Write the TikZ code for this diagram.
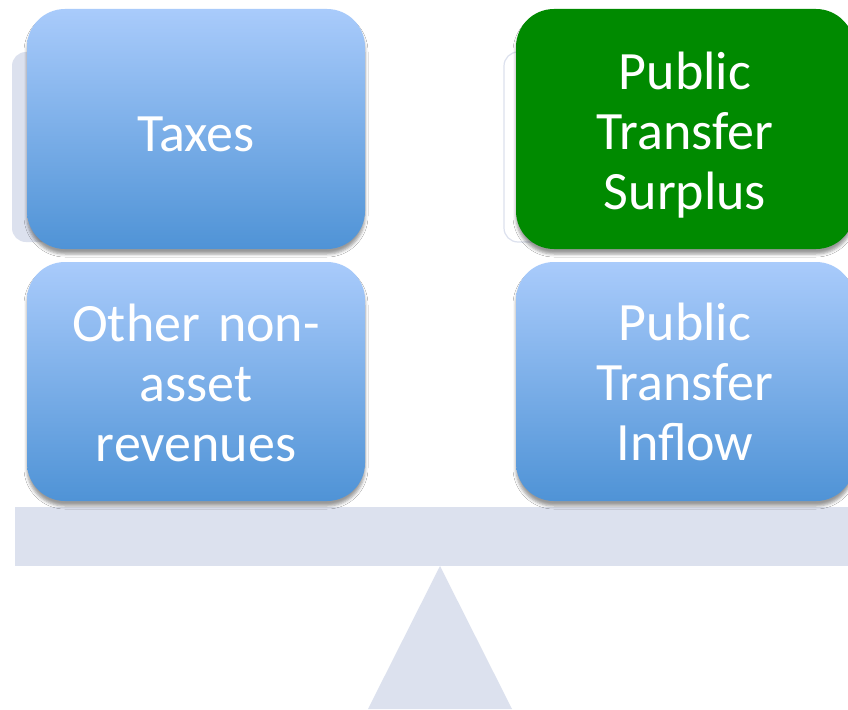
\documentclass[tikz,border=0pt]{standalone}
\usepackage{fontspec}
\setmainfont{Carlito}
\usetikzlibrary{shadows.blur}
\definecolor{topblue}{HTML}{A9CBFB}
\definecolor{botblue}{HTML}{4F93D6}
\definecolor{surplusgreen}{HTML}{008A00}
\definecolor{scalegray}{HTML}{DCE1EE}
\tikzset{
  panel/.style={rectangle, rounded corners=38pt, minimum width=338pt, minimum height=240pt,
    blur shadow={shadow xshift=0pt, shadow yshift=-5pt, shadow blur radius=3pt, shadow opacity=40}},
  bluepanel/.style={panel, top color=topblue, bottom color=botblue},
  greenpanel/.style={panel, fill=surplusgreen},
  paneltext/.style={text width=320pt, align=center, text=white, font=\fontsize{54}{60}\selectfont},
  backcard/.style={rounded corners=14pt},
}
\begin{document}
\begin{tikzpicture}[x=1pt,y=-1pt]
\useasboundingbox (0,0) rectangle (848,709);
\fill[white] (0,0) rectangle (848,709);
% back cards
\fill[scalegray, backcard] (12,52) rectangle (200,242);
\draw[scalegray, fill=white, line width=1.2pt, backcard] (504,52) rectangle (690,242);
% beam and fulcrum
\fill[scalegray] (15,507) rectangle (860,566);
\coordinate (apex) at (440,566);
\coordinate (bl) at (368,709);
\coordinate (br) at (512,709);
\fill[scalegray] (apex) -- (br) -- (bl) -- cycle;
% panels
\node[bluepanel] (taxes) at (196,129) {};
\node[bluepanel, minimum height=239pt] (other) at (196,381.5) {};
\node[greenpanel] (surplus) at (685,129) {};
\node[bluepanel, minimum height=239pt] (inflow) at (685,381.5) {};
% texts
\node[paneltext] (taxest) at (196,134) {Taxes};
\node[paneltext] (othert) at (196,383) {Other non-\\asset\\revenues};
\node[paneltext] (surplust) at (685,135) {Public\\Transfer\\Surplus};
\node[paneltext] (inflowt) at (685,382) {Public\\Transfer\\Inflow};
\end{tikzpicture}
\end{document}
